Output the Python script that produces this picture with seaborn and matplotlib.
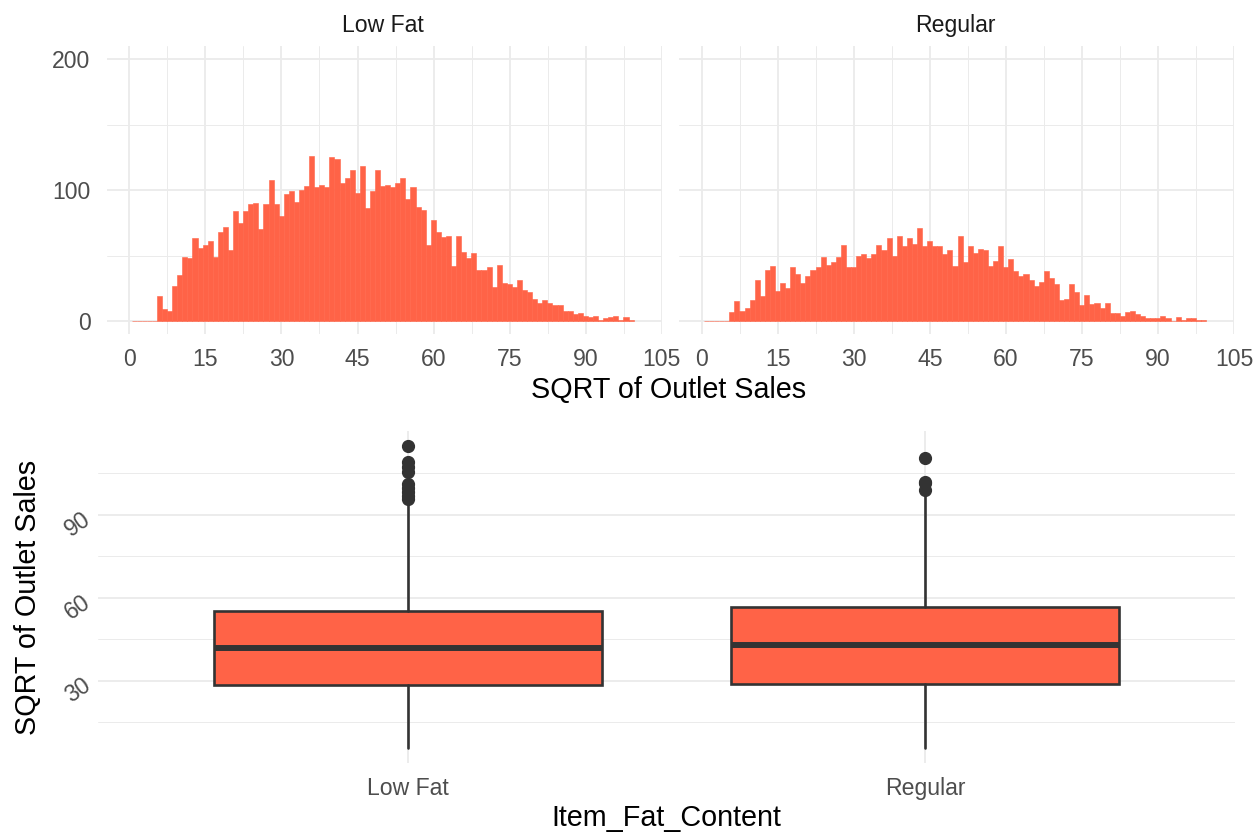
import numpy as np
import pandas as pd
import matplotlib
matplotlib.use("Agg")
import matplotlib.pyplot as plt
from matplotlib.ticker import MultipleLocator, FixedLocator
import seaborn as sns

# histogram bins (binwidth 1, first edge)
bin_start = 0.45
n_bins = 99

# counts per bin, Low Fat (first 5 bins empty)
low_fat_counts = [0, 0, 0, 0, 0,
                  19, 9, 8, 27, 35, 49, 48, 63, 56, 58, 61, 49, 68, 72, 54, 84, 75, 84, 89, 90,
                  70, 89, 108, 89, 80, 97, 99, 91, 100, 103, 126, 102, 104, 102, 125, 124, 105, 109,
                  115, 98, 118, 86, 99, 115, 103, 104, 102, 105, 109, 93, 102, 87, 85, 58, 77, 68,
                  64, 65, 42, 65, 53, 48, 52, 39, 39, 41, 26, 43, 29, 28, 26, 31, 24, 22, 17, 14,
                  16, 14, 12, 12, 8, 8, 5, 6, 4, 3, 4, 1, 2, 3, 4, 1, 3, 1]

# counts per bin, Regular
regular_counts = [0, 0, 0, 0, 0,
                  7, 15, 8, 10, 16, 31, 19, 39, 42, 23, 29, 25, 41, 36, 29, 34, 39, 41, 49, 43,
                  45, 49, 58, 41, 41, 50, 51, 48, 51, 58, 54, 63, 50, 65, 57, 63, 59, 71, 57, 61,
                  57, 57, 51, 54, 42, 65, 45, 57, 52, 55, 54, 42, 46, 57, 41, 47, 38, 34, 36, 31,
                  27, 30, 38, 33, 28, 16, 17, 28, 22, 12, 20, 13, 14, 10, 14, 6, 6, 4, 7, 8, 5, 4,
                  2, 2, 2, 4, 2, 0, 3, 1, 2, 2, 1, 1]

fat_levels = ["Low Fat", "Regular"]

# boxplot summary of sqrt(Item_Outlet_Sales)
box_q1 = [28.55, 28.9]
box_median = [41.9, 43.0]
box_q3 = [55.4, 56.7]
whisker_low = [5.8, 5.8]
whisker_high = [95.3, 97.9]
outliers_low_fat = [95.8, 96.9, 98.3, 99.7, 101.2, 105.5, 107.3, 109.1, 114.9]
outliers_regular = [98.8, 101.4, 102.0, 110.5]

tomato = "#FF6347"
dark = "#333333"
grid_col = "#EBEBEB"
tick_col = "#4D4D4D"

sns.set_theme(style="white")
plt.rcParams["font.family"] = ["Liberation Sans", "DejaVu Sans"]

W, H = 1260, 833
fig = plt.figure(figsize=(W / 100, H / 100), dpi=100)


def frac(left, top, right, bottom):
    return [left / W, 1 - bottom / H, (right - left) / W, (bottom - top) / H]


edges = (bin_start + np.arange(n_bins + 1)).tolist()
centers = [e + 0.5 for e in edges[:-1]]

top_axes = [fig.add_axes(frac(106.5, 45.9, 662.0, 334.1)),
            fig.add_axes(frac(678.9, 45.9, 1234.4, 334.1))]

for ax, name, counts in zip(top_axes, fat_levels, [low_fat_counts, regular_counts]):
    hist_df = pd.DataFrame({"sales": centers, "n": counts})
    sns.histplot(data=hist_df, x="sales", weights="n", bins=edges, ax=ax, color=tomato,
                 alpha=1, edgecolor=tomato, linewidth=0.4)
    ax.set_xlim(-4.5, 105.05)
    ax.set_ylim(-10, 210)
    ax.xaxis.set_major_locator(MultipleLocator(15))
    ax.xaxis.set_minor_locator(MultipleLocator(7.5))
    ax.yaxis.set_major_locator(MultipleLocator(100))
    ax.yaxis.set_minor_locator(MultipleLocator(50))
    ax.grid(which="major", color=grid_col, linewidth=1.3)
    ax.grid(which="minor", color=grid_col, linewidth=0.7)
    ax.set_axisbelow(True)
    for s in ax.spines.values():
        s.set_visible(False)
    ax.tick_params(which="both", length=0, labelsize=16.6, labelcolor=tick_col)
    ax.tick_params(axis="x", pad=10)
    ax.tick_params(axis="y", pad=11.5)
    ax.set_xlabel("")
    ax.set_ylabel("")
    ax.set_title("")

top_axes[1].tick_params(axis="y", labelleft=False)

fig.text(383 / W, 1 - 31.7 / H, "Low Fat", ha="center", va="baseline",
         fontsize=16.6, color="#1A1A1A")
fig.text(955.5 / W, 1 - 31.7 / H, "Regular", ha="center", va="baseline",
         fontsize=16.6, color="#1A1A1A")
fig.text(669 / W, 1 - 398.5 / H, "SQRT of Outlet Sales", ha="center", va="baseline",
         fontsize=20.7, color="black")

# boxplot
ax = fig.add_axes(frac(98, 431, 1235, 763))
stats = []
for i, fl in enumerate([outliers_low_fat, outliers_regular]):
    stats.append(dict(label=fat_levels[i], q1=box_q1[i], med=box_median[i], q3=box_q3[i],
                      whislo=whisker_low[i], whishi=whisker_high[i], fliers=fl))
ax.bxp(stats, positions=[1, 2], widths=0.75, patch_artist=True, showcaps=False,
       boxprops=dict(facecolor=tomato, edgecolor=dark, linewidth=1.9),
       medianprops=dict(color=dark, linewidth=4.3, solid_capstyle="butt"),
       whiskerprops=dict(color=dark, linewidth=1.9),
       flierprops=dict(marker="o", markerfacecolor=dark, markeredgecolor=dark,
                       markersize=8.5))
ax.set_xlim(0.4, 2.6)
ax.set_ylim(0.3, 120.3)
ax.set_xticks([1, 2])
ax.set_xticklabels(fat_levels)
ax.yaxis.set_major_locator(FixedLocator([30, 60, 90]))
ax.yaxis.set_minor_locator(FixedLocator([15, 45, 75, 105]))
ax.grid(which="major", color=grid_col, linewidth=1.3)
ax.grid(which="minor", axis="y", color=grid_col, linewidth=0.7)
ax.set_axisbelow(True)
for s in ax.spines.values():
    s.set_visible(False)
ax.tick_params(which="both", length=0, labelsize=16.6, labelcolor=tick_col)
ax.tick_params(axis="x", pad=10)
ax.tick_params(axis="y", pad=8)
for lab in ax.get_yticklabels():
    lab.set_rotation(35)
    lab.set_ha("right")
    lab.set_rotation_mode("anchor")
ax.set_xlabel("")
ax.set_ylabel("")

fig.text(28 / W, 1 - 597 / H, "SQRT of Outlet Sales", rotation=90,
         ha="center", va="center", fontsize=20.7, color="black")
fig.text(666 / W, 1 - 826 / H, "Item_Fat_Content", ha="center", va="baseline",
         fontsize=20.7, color="black")

fig.savefig("out.png", dpi=100)
